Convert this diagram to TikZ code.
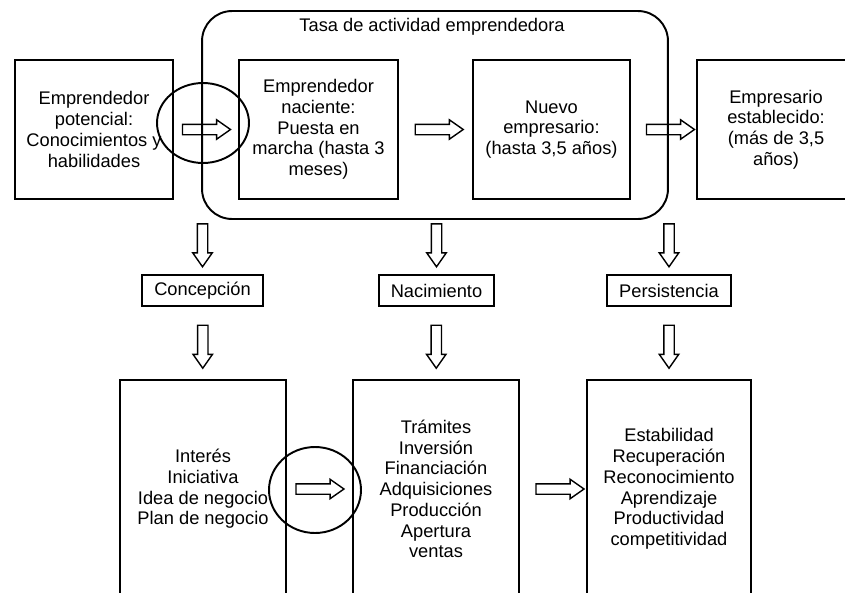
\documentclass[tikz,border=0pt]{standalone}
\usepackage{fontspec}
\setmainfont{Liberation Sans}
\usetikzlibrary{shapes.arrows,shapes.geometric}
\begin{document}
\begin{tikzpicture}[x=0.02cm, y=-0.02cm,
  caja/.style={draw, line width=1.1pt, align=center, inner sep=0pt, font=\fontsize{10.4}{11.8}\selectfont},
  fase/.style={caja, minimum height=0.62cm},
  flecha/.style={single arrow, draw, line width=0.8pt, inner sep=0.09cm, single arrow head extend=0.09cm, single arrow tip angle=70, minimum height=0.96cm},
  bajada/.style={flecha, rotate=-90, minimum height=0.86cm},
  aro/.style={ellipse, draw, line width=1.1pt, inner sep=0pt}]
\useasboundingbox (0,0) rectangle (845,592);
\clip (0,0) rectangle (845,592);
\node[caja, rounded corners=0.6cm, minimum width=9.32cm, minimum height=4.16cm] (tasa) at (435,115) {};
\node[font=\fontsize{10.4}{11.8}\selectfont] (titulo) at (432,27) {Tasa de actividad emprendedora};
\node[caja, minimum width=3.16cm, minimum height=2.78cm] (pot) at (94,129.5) {Emprendedor\\potencial:\\Conocimientos y\\habilidades};
\node[caja, minimum width=3.18cm, minimum height=2.78cm] (nac) at (318.5,129.5) {Emprendedor\\naciente:\\Puesta en\\marcha (hasta 3\\meses)};
\node[caja, minimum width=3.14cm, minimum height=2.78cm] (nue) at (551.5,129.5) {Nuevo\\empresario:\\(hasta 3,5 años)};
\node[caja, minimum width=3.16cm, minimum height=2.78cm] (est) at (776,129.5) {Empresario\\establecido:\\(más de 3,5\\años)};
\path (pot.east) -- node[flecha, pos=0.45]{} (nac.west);
\path (nac.east) -- node[flecha]{} (nue.west);
\path (nue.east) -- node[flecha, pos=0.55]{} (est.west);
\node[aro, minimum width=1.84cm, minimum height=1.6cm] (ring1) at (203,123) {};
\node[fase, minimum width=2.42cm] (conc) at (202.5,290.5) {Concepción};
\node[fase, minimum width=2.3cm] (naci) at (436.5,290.5) {Nacimiento};
\node[fase, minimum width=2.48cm] (pers) at (669,290.5) {Persistencia};
\path (tasa.south -| conc.north) -- node[bajada, pos=0.4]{} (conc.north);
\path (tasa.south -| naci.north) -- node[bajada, pos=0.4]{} (naci.north);
\path (tasa.south -| pers.north) -- node[bajada, pos=0.4]{} (pers.north);
\node[caja, minimum width=3.32cm, minimum height=4.36cm] (conB) at (203,489) {Interés\\Iniciativa\\Idea de negocio\\Plan de negocio};
\node[caja, minimum width=3.32cm, minimum height=4.36cm] (nacB) at (436,489) {Trámites\\Inversión\\Financiación\\Adquisiciones\\Producción\\Apertura\\ventas};
\node[caja, minimum width=3.28cm, minimum height=4.36cm] (perB) at (669,489) {Estabilidad\\Recuperación\\Reconocimiento\\Aprendizaje\\Productividad\\competitividad};
\path (conc.south) -- node[bajada]{} (conB.north);
\path (naci.south) -- node[bajada]{} (nacB.north);
\path (pers.south) -- node[bajada]{} (perB.north);
\path (conB.east) -- node[flecha, pos=0.45]{} (nacB.west);
\path (nacB.east) -- node[flecha, pos=0.55]{} (perB.west);
\node[aro, minimum width=1.84cm, minimum height=1.72cm] (ring2) at (315,490) {};
\end{tikzpicture}
\end{document}
